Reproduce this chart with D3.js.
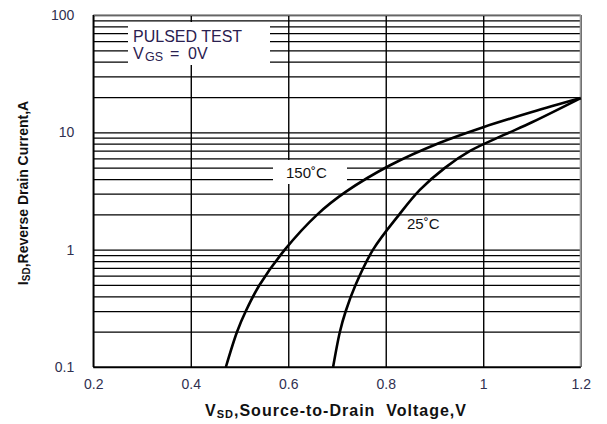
<!DOCTYPE html>
<html>
<head>
<meta charset="utf-8">
<script src="https://cdn.jsdelivr.net/npm/d3@7/dist/d3.min.js"></script>
<style>
  html, body { margin: 0; padding: 0; background: #fff; }
  svg { display: block; }
  text { font-family: "Liberation Sans", Arial, sans-serif; }
</style>
</head>
<body>
<svg id="chart" width="607" height="424"></svg>
<script>
// ---- data ----
const xTicks = [0.2, 0.4, 0.6, 0.8, 1.0, 1.2];
const xTickLabels = ["0.2", "0.4", "0.6", "0.8", "1", "1.2"];
const yTicks = [0.1, 1, 10, 100];
const yTickLabels = ["0.1", "1", "10", "100"];

// 150 °C curve (V, A)
const v150 = [0.472, 0.495, 0.513, 0.541, 0.593, 0.66, 0.7185, 0.809, 0.911, 1.0, 1.1, 1.2];
const i150 = [0.1, 0.2, 0.3, 0.5, 1, 2, 3.12, 5.24, 8.15, 11.07, 14.9, 19.6];

// 25 °C curve (V, A)
const v25 = [0.692, 0.706, 0.718, 0.738, 0.774, 0.828, 0.870, 0.922, 0.973, 1.045, 1.1, 1.2];
const i25 = [0.1, 0.2, 0.3, 0.5, 1, 2, 3.23, 5, 6.94, 9.6, 12.19, 19.6];

const seriesLabels = ["150\u02DAC", "25\u02DAC"];

// ---- layout ----
const svg = d3.select("#chart");
const L = 93.3, R = 580.7, T = 15, B = 367;
const x = d3.scaleLinear().domain([0.2, 1.2]).range([L, R]);
const y = d3.scaleLog().domain([0.1, 100]).range([B, T]);

const grid = svg.append("g");
grid.append("g")
  .attr("transform", `translate(${L},0)`)
  .call(d3.axisLeft(y).tickValues(y.ticks()).tickSize(-(R - L)).tickFormat(""))
  .call(g => g.select(".domain").remove())
  .call(g => g.selectAll("line").attr("stroke", "#000").attr("stroke-width", 1.25));
grid.append("g")
  .attr("transform", `translate(0,${B})`)
  .call(d3.axisBottom(x).tickValues(xTicks).tickSize(-(B - T)).tickFormat(""))
  .call(g => g.select(".domain").remove())
  .call(g => g.selectAll("line").attr("stroke", "#000").attr("stroke-width", 1.4));

// frame
svg.append("line").attr("x1", L).attr("x2", R).attr("y1", T).attr("y2", T).attr("stroke", "#888").attr("stroke-width", 1.5);
svg.append("line").attr("x1", R).attr("x2", R).attr("y1", T).attr("y2", B).attr("stroke", "#999").attr("stroke-width", 2);
svg.append("line").attr("x1", L).attr("x2", L).attr("y1", T).attr("y2", B).attr("stroke", "#000").attr("stroke-width", 1.5);
svg.append("line").attr("x1", L).attr("x2", R).attr("y1", B).attr("y2", B).attr("stroke", "#000").attr("stroke-width", 1.5);

// white boxes behind labels
svg.append("rect").attr("x", 128).attr("y", 22).attr("width", 142).attr("height", 43).attr("fill", "#fff");
svg.append("rect").attr("x", 273).attr("y", 160).attr("width", 74).attr("height", 24).attr("fill", "#fff");

// tick labels
svg.append("g")
  .attr("transform", `translate(${L},0)`)
  .call(d3.axisLeft(y).tickValues(yTicks).tickSize(0).tickPadding(19)
    .tickFormat((d, i) => yTickLabels[i]))
  .call(g => g.select(".domain").remove())
  .call(g => g.selectAll("text").attr("font-size", 14).attr("fill", "#303050")
    .attr("font-family", "Liberation Sans, Arial, sans-serif"));

svg.append("g")
  .attr("transform", `translate(0,${B})`)
  .call(d3.axisBottom(x).tickValues(xTicks).tickSize(0).tickPadding(12)
    .tickFormat((d, i) => xTickLabels[i]))
  .call(g => g.select(".domain").remove())
  .call(g => g.selectAll("text").attr("font-size", 14).attr("fill", "#303050")
    .attr("font-family", "Liberation Sans, Arial, sans-serif"));

// curves
const line = d3.line().x(d => x(d[0])).y(d => y(d[1])).curve(d3.curveCatmullRom.alpha(0.5));
svg.append("path").datum(v150.map((v, i) => [v, i150[i]]))
  .attr("d", line).attr("fill", "none").attr("stroke", "#000").attr("stroke-width", 2.6);
svg.append("path").datum(v25.map((v, i) => [v, i25[i]]))
  .attr("d", line).attr("fill", "none").attr("stroke", "#000").attr("stroke-width", 2.6);

// series labels
svg.append("text").attr("x", 286).attr("y", 178).attr("font-size", 15).attr("fill", "#111").text(seriesLabels[0]);
svg.append("text").attr("x", 407).attr("y", 229).attr("font-size", 15).attr("fill", "#111").text(seriesLabels[1]);

// legend text
const lg = svg.append("g").attr("fill", "#2a2050");
lg.append("text").attr("x", 133).attr("y", 42).attr("font-size", 16).text("PULSED TEST");
const t2 = lg.append("text").attr("y", 59).attr("font-size", 16);
t2.append("tspan").attr("x", 133).text("V");
t2.append("tspan").attr("x", 145).attr("font-size", 12.5).attr("dy", 2).text("GS");
t2.append("tspan").attr("x", 170).attr("dy", -2).text("=");
t2.append("tspan").attr("x", 188).text("0V");

// axis titles
const xt = svg.append("text").attr("x", 336).attr("y", 416).attr("text-anchor", "middle")
  .attr("font-size", 16).attr("font-weight", "bold").attr("fill", "#111").attr("letter-spacing", 1);
xt.append("tspan").text("V");
xt.append("tspan").attr("font-size", 11).attr("dy", 2).text("SD");
xt.append("tspan").attr("dy", -2).text(",Source-to-Drain\u00A0 Voltage,V");

const yt = svg.append("text").attr("transform", "translate(28,193) rotate(-90)").attr("text-anchor", "middle")
  .attr("font-size", 14).attr("font-weight", "bold").attr("fill", "#111");
yt.append("tspan").text("I");
yt.append("tspan").attr("font-size", 10).attr("dy", 2).text("SD");
yt.append("tspan").attr("dy", -2).text(",Reverse Drain Current,A");
</script>
</body>
</html>
